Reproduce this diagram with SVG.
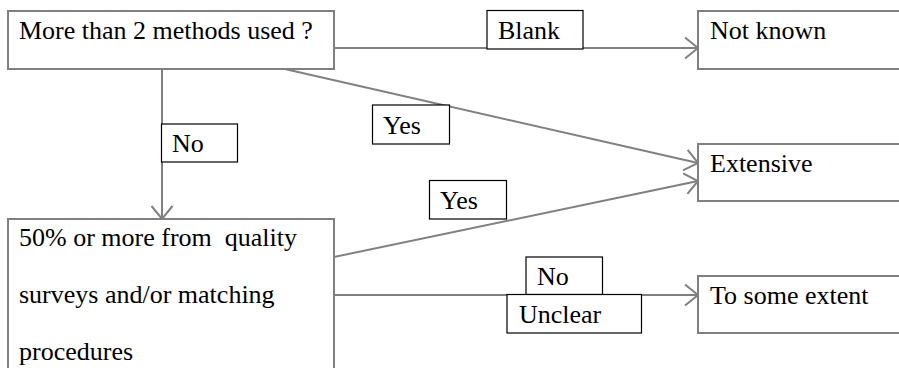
<svg xmlns="http://www.w3.org/2000/svg" width="899" height="368" viewBox="0 0 899 368">
  <style>
    .node { fill: #ffffff; stroke: #808080; stroke-width: 2; }
    .tag { fill: #ffffff; stroke: #000000; stroke-width: 1.2; }
    .edge { fill: none; stroke: #808080; stroke-width: 2; }
  </style>
  <defs>
    <marker id="open-arrow" markerUnits="userSpaceOnUse" viewBox="-15 -12 17 24" refX="0" refY="0" markerWidth="17" markerHeight="24" orient="auto" overflow="visible">
      <path d="M-13,-10.5 L0,0 L-13,10.5" fill="none" stroke="#808080" stroke-width="2"/>
    </marker>
  </defs>

  <!-- connectors -->
  <g id="connectors">
    <line class="edge" x1="334" y1="48" x2="698" y2="48" marker-end="url(#open-arrow)"/>
    <line class="edge" x1="276" y1="67" x2="698" y2="163" marker-end="url(#open-arrow)"/>
    <line class="edge" x1="162" y1="69" x2="162" y2="219" marker-end="url(#open-arrow)"/>
    <line class="edge" x1="334" y1="257" x2="698" y2="181" marker-end="url(#open-arrow)"/>
    <line class="edge" x1="334" y1="295" x2="698" y2="295" marker-end="url(#open-arrow)"/>
  </g>

  <g font-family="Liberation Serif, Times New Roman, serif" font-size="26" fill="#000000">
    <!-- nodes -->
    <g id="node-methods">
      <rect class="node" x="8" y="11" width="326" height="58"/>
      <text x="19" y="39">More than 2 methods used ?</text>
    </g>
    <g id="node-not-known">
      <rect class="node" x="698" y="11" width="220" height="58"/>
      <text x="710" y="39">Not known</text>
    </g>
    <g id="node-extensive">
      <rect class="node" x="698" y="144" width="220" height="57"/>
      <text x="710" y="172">Extensive</text>
    </g>
    <g id="node-quality">
      <rect class="node" x="8" y="219" width="326" height="170"/>
      <text x="19" y="246" xml:space="preserve">50% or more from  quality</text>
      <text x="19" y="303">surveys and/or matching</text>
      <text x="19" y="360">procedures</text>
    </g>
    <g id="node-some-extent">
      <rect class="node" x="698" y="276" width="220" height="57"/>
      <text x="710" y="304">To some extent</text>
    </g>

    <!-- edge labels -->
    <g id="label-blank">
      <rect class="tag" x="487" y="10.5" width="96" height="38.5"/>
      <text x="498" y="39">Blank</text>
    </g>
    <g id="label-yes-1">
      <rect class="tag" x="372.5" y="105" width="77" height="39"/>
      <text x="383" y="134">Yes</text>
    </g>
    <g id="label-no-1">
      <rect class="tag" x="161.5" y="124" width="76" height="38"/>
      <text x="172" y="152">No</text>
    </g>
    <g id="label-yes-2">
      <rect class="tag" x="429.5" y="180.5" width="77" height="38.5"/>
      <text x="440" y="209">Yes</text>
    </g>
    <g id="label-no-2">
      <rect class="tag" x="526" y="257" width="76.5" height="37.5"/>
      <text x="537" y="285">No</text>
    </g>
    <g id="label-unclear">
      <rect class="tag" x="507" y="294.5" width="134.5" height="38.5"/>
      <text x="519" y="323">Unclear</text>
    </g>
  </g>
</svg>
